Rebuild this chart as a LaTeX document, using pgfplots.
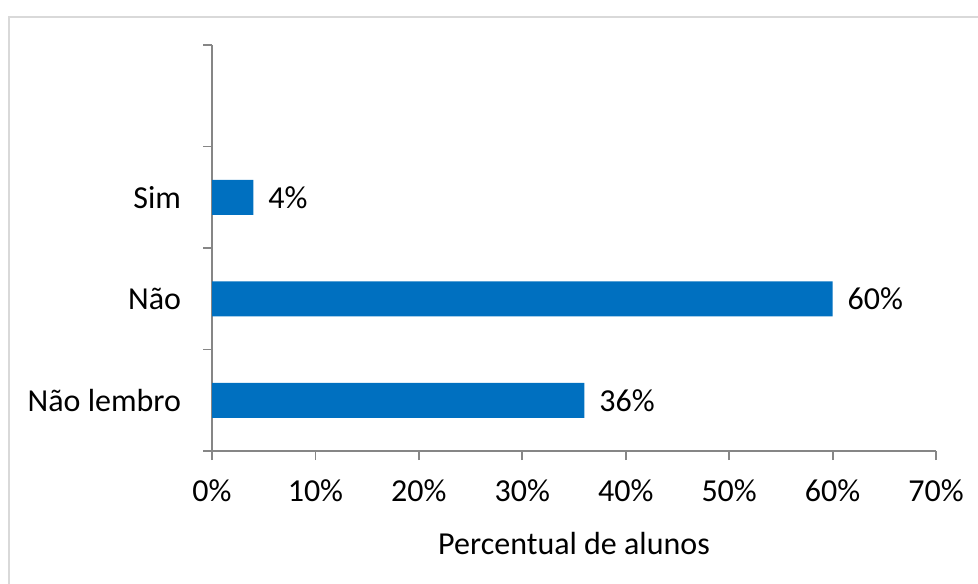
\documentclass[border=0pt]{standalone}
\usepackage{pgfplots}
\pgfplotsset{compat=1.18}
\usepackage{fontspec}
\setmainfont{Carlito}
\definecolor{barblue}{HTML}{0070C0}
\definecolor{axgray}{HTML}{868686}
\begin{document}
\begin{tikzpicture}[x=0.5pt,y=0.5pt]
\clip (0,0) rectangle (978,583);
\draw[draw=black!15, line width=1pt] (9,-10) rectangle (990,566);
\begin{axis}[
  at={(205,130)}, anchor=south west,
  scale only axis, width=362pt, height=203pt,
  xbar, bar width=17.5pt,
  xmin=0, xmax=70,
  ymin=-0.5, ymax=3.5,
  xtick={0,10,...,70},
  xticklabel={\pgfmathprintnumber{\tick}\%},
  ytick={-0.5,0.5,1.5,2.5,3.5},
  yticklabels={},
  extra y ticks={0,1,2},
  extra y tick labels={Não lembro, Não, Sim},
  extra y tick style={tick style={draw=none}},
  major tick length=4.5pt,
  tick align=outside,
  axis x line*=bottom, axis y line*=left,
  axis line style={draw=axgray, line width=0.9pt, -},
  every tick/.style={draw=axgray, line width=0.9pt},
  tick label style={font=\fontsize{16}{19}\selectfont, /pgf/number format/assume math mode=true},
  yticklabel style={xshift=-7.5pt},
  xticklabel style={yshift=-6.5pt},
  xlabel={Percentual de alunos},
  xlabel style={font=\fontsize{16}{19}\selectfont, yshift=-8pt},
  nodes near coords={\pgfmathprintnumber{\pgfplotspointmeta}\%},
  nodes near coords style={font=\fontsize{16}{19}\selectfont, anchor=west, xshift=4pt, black, /pgf/number format/assume math mode=true},
  point meta=x,
  clip=false,
]
\addplot[fill=barblue, draw=none] coordinates {(36,0) (60,1) (4,2)};
\end{axis}
\end{tikzpicture}
\end{document}
